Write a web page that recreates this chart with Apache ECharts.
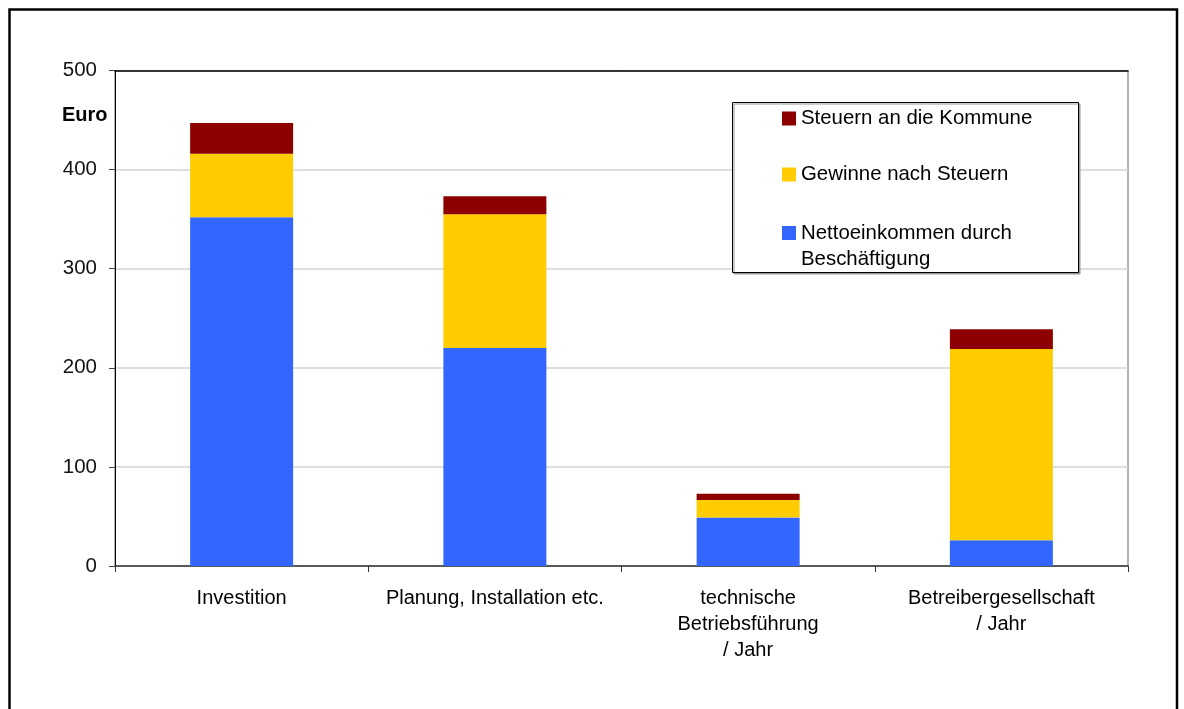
<!DOCTYPE html>
<html>
<head>
<meta charset="utf-8">
<script src="https://cdn.jsdelivr.net/npm/echarts@6/dist/echarts.min.js"></script>
<style>
html,body{margin:0;padding:0;background:#fff;}
#chart{width:1184px;height:709px;}
</style>
</head>
<body>
<div id="chart"></div>
<script>
const categories = ['Investition', 'Planung, Installation etc.', 'technische\nBetriebsführung\n/ Jahr', 'Betreibergesellschaft\n/ Jahr'];
const netto = [352, 220, 49, 26];
const gewinne = [64, 135, 17.5, 193];
const steuern = [31, 18, 6.5, 20];
const seriesNames = ['Steuern an die Kommune', 'Gewinne nach Steuern', 'Nettoeinkommen durch\nBeschäftigung'];
const yTicks = [0, 100, 200, 300, 400, 500];

const FONT = '"Liberation Sans", Arial, Helvetica, sans-serif';
const chart = echarts.init(document.getElementById('chart'), null, {renderer: 'canvas'});

const legendBase = {
  orient: 'vertical', left: 782, padding: 0, icon: 'rect',
  itemWidth: 14, itemHeight: 14, selectedMode: false,
  textStyle: {fontFamily: FONT, fontSize: 20.4, color: '#000', lineHeight: 20}
};

chart.setOption({
  animation: false,
  backgroundColor: '#fff',
  textStyle: {fontFamily: FONT},
  grid: {left: 115, top: 70.5, right: 56, bottom: 143, show: true, borderColor: '#666', borderWidth: 1, backgroundColor: 'transparent'},
  graphic: [
    {type: 'rect', z: 100, silent: true, shape: {x: 9.5, y: 9.5, width: 1167.5, height: 800},
     style: {fill: 'none', stroke: '#000', lineWidth: 2.5}},
    {type: 'rect', z: 3, silent: true, shape: {x: 732.5, y: 102.5, width: 346, height: 170},
     style: {fill: '#fff', stroke: '#000', lineWidth: 1, shadowColor: '#999', shadowOffsetX: 1.5, shadowOffsetY: 1.5, shadowBlur: 0}},
    {type: 'text', z: 5, silent: true,
     style: {text: 'Euro', x: 62, y: 115, verticalAlign: 'middle', align: 'left', font: 'bold 20px ' + FONT, fill: '#000'}}
  ],
  legend: [
    Object.assign({}, legendBase, {top: 108.5, data: [seriesNames[0]], z: 10}),
    Object.assign({}, legendBase, {top: 164.5, data: [seriesNames[1]], z: 10}),
    Object.assign({}, legendBase, {top: 194, data: [seriesNames[2]], z: 10,
      formatter: function (name) { return '\n' + name; },
      textStyle: {fontFamily: FONT, fontSize: 20.4, color: '#000', lineHeight: 26}})
  ],
  xAxis: [{
    type: 'category', data: categories, boundaryGap: true,
    axisLine: {show: true, lineStyle: {color: '#333', width: 1.5}},
    axisTick: {show: true, alignWithLabel: false, length: 6, lineStyle: {color: '#333'}},
    axisLabel: {interval: 0, margin: 19, fontSize: 20, lineHeight: 26, color: '#000', fontFamily: FONT, align: 'center'}
  }, {
    type: 'category', data: categories, position: 'top', boundaryGap: true,
    axisLine: {show: true, lineStyle: {color: '#000', width: 1.5}},
    axisTick: {show: false}, axisLabel: {show: false}, splitLine: {show: false}
  }],
  yAxis: {
    type: 'value', min: yTicks[0], max: yTicks[yTicks.length - 1], interval: 100,
    axisLine: {show: true, lineStyle: {color: '#000', width: 1}},
    axisTick: {show: true, length: 6, lineStyle: {color: '#444'}},
    axisLabel: {margin: 18, fontSize: 20.5, color: '#111', fontFamily: FONT},
    splitLine: {show: true, lineStyle: {color: '#d4d4d4', width: 1.5}}
  },
  series: [
    {name: seriesNames[2], type: 'bar', stack: 'a', data: netto, barWidth: 103, itemStyle: {color: '#3366FF'}},
    {name: seriesNames[1], type: 'bar', stack: 'a', data: gewinne, barWidth: 103, itemStyle: {color: '#FFCC00'}},
    {name: seriesNames[0], type: 'bar', stack: 'a', data: steuern, barWidth: 103, itemStyle: {color: '#8C0000'}}
  ]
});
</script>
</body>
</html>
